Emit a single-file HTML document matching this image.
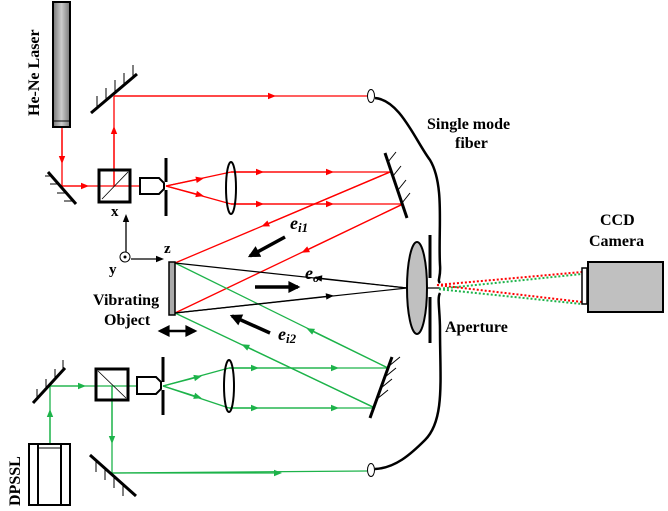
<!DOCTYPE html>
<html><head><meta charset="utf-8"><style>html,body{margin:0;padding:0;background:#fff}svg{display:block}text{font-family:"Liberation Serif",serif;font-weight:bold}</style></head>
<body>
<svg width="668" height="511" viewBox="0 0 668 511" xmlns="http://www.w3.org/2000/svg">
<defs>
<marker id="ar" viewBox="0 0 10 10" refX="5" refY="5" markerWidth="12" markerHeight="8" orient="auto" markerUnits="userSpaceOnUse"><path d="M0,1 L10,5 L0,9z" fill="red"/></marker>
<marker id="ag" viewBox="0 0 10 10" refX="5" refY="5" markerWidth="12" markerHeight="8" orient="auto" markerUnits="userSpaceOnUse"><path d="M0,1 L10,5 L0,9z" fill="#1db34a"/></marker>
<marker id="ak" viewBox="0 0 10 10" refX="5" refY="5" markerWidth="12" markerHeight="8" orient="auto" markerUnits="userSpaceOnUse"><path d="M0,1 L10,5 L0,9z" fill="#000"/></marker>
<marker id="ab" viewBox="0 0 10 10" refX="8" refY="5" markerWidth="14" markerHeight="12" orient="auto-start-reverse" markerUnits="userSpaceOnUse"><path d="M0,0 L10,5 L0,10z" fill="#000"/></marker>
<linearGradient id="lg" x1="0" x2="1"><stop offset="0" stop-color="#777"/><stop offset="0.5" stop-color="#ccc"/><stop offset="1" stop-color="#777"/></linearGradient>
</defs>
<g stroke="red" stroke-width="1.3" fill="none">
<line x1="62" y1="127" x2="62" y2="186"/><line x1="62" y1="130" x2="62" y2="160" marker-end="url(#ar)"/>
<line x1="62" y1="186" x2="140" y2="186"/><line x1="62" y1="186" x2="85" y2="186" marker-end="url(#ar)"/>
<line x1="114" y1="186" x2="114" y2="96"/><line x1="114" y1="186" x2="114" y2="130" marker-end="url(#ar)"/>
<line x1="114" y1="96" x2="367" y2="96"/><line x1="114" y1="96" x2="272" y2="96" marker-end="url(#ar)"/>
<line x1="166" y1="186" x2="231" y2="172"/><line x1="166" y1="186" x2="200" y2="179" marker-end="url(#ar)"/>
<line x1="166" y1="186" x2="231" y2="204"/><line x1="166" y1="186" x2="200" y2="195" marker-end="url(#ar)"/>
<line x1="231" y1="172" x2="390" y2="172"/><line x1="231" y1="172" x2="260" y2="172" marker-end="url(#ar)"/><line x1="231" y1="172" x2="330" y2="172" marker-end="url(#ar)"/>
<line x1="231" y1="204" x2="403" y2="204"/><line x1="231" y1="204" x2="260" y2="204" marker-end="url(#ar)"/><line x1="231" y1="204" x2="330" y2="204" marker-end="url(#ar)"/>
<line x1="390" y1="172" x2="175" y2="263"/><line x1="390" y1="172" x2="265" y2="225" marker-end="url(#ar)"/>
<line x1="403" y1="204" x2="175" y2="313"/><line x1="403" y1="204" x2="305" y2="251" marker-end="url(#ar)"/>
</g>
<g stroke="#1db34a" stroke-width="1.3" fill="none">
<line x1="50" y1="443" x2="50" y2="386"/><line x1="50" y1="443" x2="50" y2="413" marker-end="url(#ag)"/>
<line x1="50" y1="386" x2="137" y2="386"/><line x1="50" y1="386" x2="82" y2="386" marker-end="url(#ag)"/>
<line x1="112" y1="386" x2="112" y2="473"/><line x1="112" y1="386" x2="112" y2="440" marker-end="url(#ag)"/>
<line x1="112" y1="473" x2="367" y2="471"/><line x1="112" y1="473" x2="278" y2="473" marker-end="url(#ag)"/>
<line x1="163" y1="386" x2="229" y2="368"/><line x1="163" y1="386" x2="198" y2="377" marker-end="url(#ag)"/>
<line x1="163" y1="386" x2="229" y2="408"/><line x1="163" y1="386" x2="198" y2="397" marker-end="url(#ag)"/>
<line x1="229" y1="368" x2="388" y2="368"/><line x1="229" y1="368" x2="255" y2="368" marker-end="url(#ag)"/><line x1="229" y1="368" x2="335" y2="368" marker-end="url(#ag)"/>
<line x1="229" y1="408" x2="375" y2="408"/><line x1="229" y1="408" x2="255" y2="408" marker-end="url(#ag)"/><line x1="229" y1="408" x2="335" y2="408" marker-end="url(#ag)"/>
<line x1="388" y1="368" x2="175" y2="263"/><line x1="388" y1="368" x2="310" y2="330" marker-end="url(#ag)"/>
<line x1="375" y1="408" x2="175" y2="313"/><line x1="375" y1="408" x2="245" y2="346" marker-end="url(#ag)"/>
</g>
<g stroke="#000" stroke-width="1.2" fill="none">
<line x1="175" y1="263" x2="407" y2="288"/><line x1="407" y1="288" x2="318" y2="278" marker-end="url(#ak)"/>
<line x1="175" y1="313" x2="407" y2="288"/><line x1="175" y1="313" x2="330" y2="296" marker-end="url(#ak)"/>
<line x1="407" y1="288" x2="440" y2="288"/>
</g>
<g stroke-width="2" stroke-dasharray="2,2" fill="none">
<line x1="437" y1="285" x2="582" y2="272" stroke="red"/>
<line x1="437" y1="289" x2="582" y2="274" stroke="#1db34a" stroke-dashoffset="2"/>
<line x1="437" y1="285" x2="582" y2="302" stroke="red"/>
<line x1="437" y1="289" x2="582" y2="304" stroke="#1db34a" stroke-dashoffset="2"/>
</g>
<rect x="53" y="2" width="17" height="125" fill="url(#lg)" stroke="#000" stroke-width="2"/>
<line x1="53" y1="121" x2="70" y2="121" stroke="#000"/>
<text transform="translate(39,116) rotate(-90)" font-size="16">He-Ne Laser</text>
<g stroke="#000" fill="none">
<line x1="91" y1="113" x2="137" y2="74" stroke-width="3"/>
<path d="M97,108 v-12 M106,100 v-12 M115,92 v-12 M124,85 v-12 M133,77 v-12" stroke-width="1"/>
<line x1="48" y1="172" x2="76" y2="204" stroke-width="3"/>
<path d="M52,176 h-7 M59,184 h-9 M66,193 h-9 M73,201 h-9" stroke-width="1"/>
<line x1="385" y1="153" x2="407" y2="218" stroke-width="3"/>
<path d="M388,162 l8,-10 M393,176 l8,-10 M398,190 l8,-10 M402,203 l8,-10" stroke-width="1"/>
<line x1="33" y1="403" x2="65" y2="368" stroke-width="3"/>
<path d="M37,399 v-10 M46,389 v-10 M55,379 v-10 M63,370 v-10" stroke-width="1"/>
<line x1="90" y1="455" x2="136" y2="496" stroke-width="3"/>
<path d="M96,460 v12 M105,468 v12 M114,476 v12 M123,484 v12" stroke-width="1"/>
<line x1="392" y1="357" x2="370" y2="418" stroke-width="3"/>
<path d="M389,366 l11,-9 M385,377 l11,-9 M381,388 l11,-9 M377,399 l11,-9" stroke-width="1"/>
</g>
<rect x="99" y="170" width="31" height="32" fill="none" stroke="#000" stroke-width="3"/>
<line x1="102" y1="199" x2="128" y2="172" stroke="#000" stroke-width="0.8"/>
<rect x="96" y="369" width="32" height="31" fill="none" stroke="#000" stroke-width="3"/>
<line x1="98" y1="371" x2="126" y2="398" stroke="#000" stroke-width="0.8"/>
<path d="M140,178 h19 l5,5 v6 l-5,5 h-19z" fill="#fff" stroke="#000" stroke-width="2"/>
<path d="M137,377 h19 l5,5 v7 l-5,5 h-19z" fill="#fff" stroke="#000" stroke-width="2"/>
<g stroke="#000" stroke-width="3"><line x1="166" y1="158" x2="166" y2="182"/><line x1="166" y1="190" x2="166" y2="216"/>
<line x1="163" y1="357" x2="163" y2="382"/><line x1="163" y1="390" x2="163" y2="415"/></g>
<ellipse cx="231" cy="188" rx="5" ry="26" fill="none" stroke="#000" stroke-width="2"/>
<ellipse cx="229" cy="386" rx="5" ry="26" fill="none" stroke="#000" stroke-width="2"/>
<ellipse cx="417" cy="288" rx="10" ry="46" fill="#c0c0c0" stroke="#000" stroke-width="2"/>
<g stroke="#000" stroke-width="3"><line x1="430" y1="235" x2="430" y2="278"/><line x1="430" y1="297" x2="430" y2="343"/></g>
<path d="M375,98 C400,100 415,140 430,160 C445,185 438,230 440,265 C441,278 437,280 440,283" fill="none" stroke="#000" stroke-width="2.5"/>
<path d="M440,293 C437,298 440,310 440,330 C440,380 445,420 425,440 C410,455 395,468 375,469" fill="none" stroke="#000" stroke-width="2.5"/>
<ellipse cx="371" cy="96" rx="3.5" ry="6.5" fill="#fff" stroke="#000"/>
<ellipse cx="371" cy="470" rx="3.5" ry="6.5" fill="#fff" stroke="#000"/>
<rect x="169" y="262" width="6" height="53" fill="#aaa" stroke="#000" stroke-width="1.5"/>
<g stroke="#000" stroke-width="1.3"><line x1="126" y1="252" x2="126" y2="218" marker-end="url(#ak)"/><line x1="131" y1="259" x2="160" y2="259" marker-end="url(#ak)"/></g>
<circle cx="125" cy="257" r="5" fill="#fff" stroke="#000"/><circle cx="125" cy="257" r="1.5" fill="#000"/>
<g font-size="15"><text x="111" y="216" font-weight="normal">x</text><text x="164" y="253" font-weight="normal">z</text><text x="109" y="274" font-weight="normal">y</text></g>
<g stroke="#000" stroke-width="3.5"><line x1="285" y1="237" x2="250" y2="256" marker-end="url(#ab)"/>
<line x1="255" y1="287" x2="298" y2="287" marker-end="url(#ab)"/>
<line x1="270" y1="333" x2="232" y2="316" marker-end="url(#ab)"/>
<line x1="160" y1="331" x2="195" y2="331" stroke-width="2.5" marker-end="url(#ab)" marker-start="url(#ab)"/></g>
<g font-size="18" font-style="italic"><text x="290" y="229">e<tspan font-size="13" dy="3">i1</tspan></text>
<text x="305" y="279">e<tspan font-size="12" dy="3">o</tspan></text>
<text x="278" y="340">e<tspan font-size="13" dy="3">i2</tspan></text></g>
<g font-size="16"><text x="427" y="129">Single mode</text><text x="455" y="148">fiber</text>
<text x="93" y="305">Vibrating</text><text x="104" y="325">Object</text>
<text x="445" y="332">Aperture</text>
<text x="600" y="225">CCD</text><text x="589" y="246">Camera</text></g>
<rect x="582" y="268" width="5" height="36" fill="#fff" stroke="#000" stroke-width="1.5"/>
<rect x="588" y="262" width="75" height="50" fill="#c0c0c0" stroke="#000" stroke-width="2"/>
<rect x="29" y="444" width="41" height="61" fill="#fff" stroke="#000" stroke-width="2"/>
<line x1="38" y1="444" x2="38" y2="505" stroke="#000" stroke-width="2"/><line x1="61" y1="444" x2="61" y2="505" stroke="#000" stroke-width="2"/>
<line x1="38" y1="448" x2="61" y2="448" stroke="#000"/>
<text transform="translate(20,506) rotate(-90)" font-size="16">DPSSL</text>
</svg>
</body></html>
